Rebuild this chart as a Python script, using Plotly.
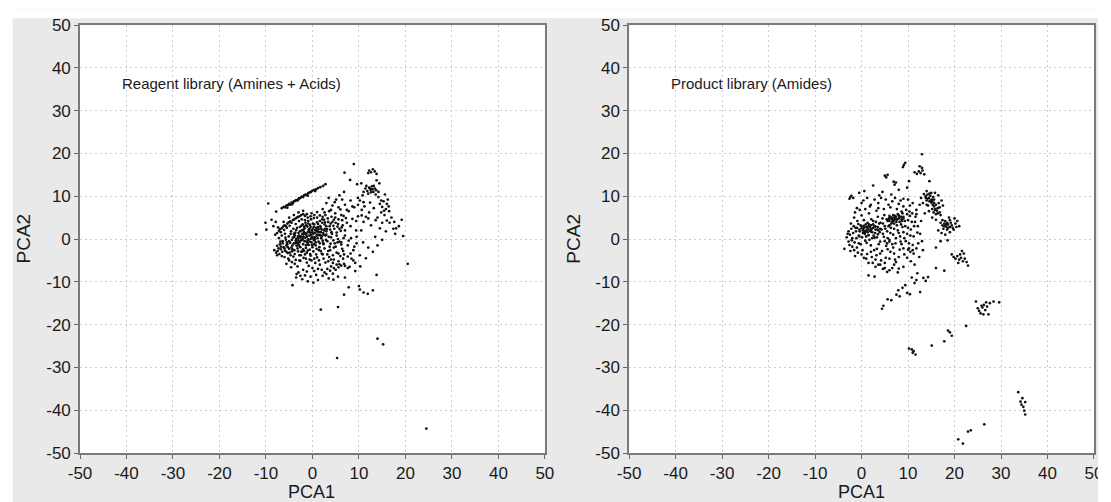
import plotly.graph_objects as go

# ---------------- data (PCA1, PCA2) ----------------
reagent_streak = [(-6.6,7.2),(-6.2,7.5),(-5.9,7.4),(-5.6,7.8),(-5.3,7.9),(-5.0,8.2),(-4.8,8.0),(-4.5,8.5),(-4.2,8.4),(-4.0,8.8),
    (-3.7,8.9),(-3.5,9.1),(-3.2,9.0),(-2.9,9.5),(-2.6,9.6),(-2.3,9.9),(-2.0,9.8),(-1.8,10.2),(-1.5,10.4),(-1.2,10.3),
    (-0.9,10.7),(-0.6,10.9),(-0.3,11.0),(0.0,11.3),(0.4,11.5),(0.8,11.6),(1.2,11.9),(1.7,12.1),(2.3,12.4),(2.8,12.8),
    (-5.4,7.3),(-4.4,8.1),(-3.0,9.3),(-1.0,10.1),(0.6,11.2)]
reagent_band = [(-8.0,1.0),(-7.6,1.4),(-7.2,1.9),(-7.0,2.3),(-6.6,2.5),(-6.3,2.9),(-6.0,3.2),(-5.7,3.0),(-5.4,3.6),(-5.1,3.9),
    (-4.8,4.1),(-4.5,3.8),(-4.2,4.4),(-3.9,4.6),(-3.5,4.9),(-3.2,5.1),(-2.8,5.3),(-2.4,5.6),(-2.0,5.8),(-1.6,5.4),
    (-7.4,2.7),(-6.8,1.6),(-6.1,2.1),(-5.5,2.6),(-4.9,3.1),(-8.4,3.0),(-7.9,4.0)]
reagent_core = [(-4.0,-1.0),(-3.6,-0.4),(-3.2,0.2),(-2.8,-0.8),(-2.5,0.6),(-2.2,-0.2),(-1.9,1.1),(-1.6,0.3),(-1.3,-0.6),(-1.0,1.6),
    (-0.7,0.8),(-0.4,0.0),(-0.1,2.0),(0.2,1.2),(0.5,0.4),(0.8,2.6),(1.1,1.8),(1.4,0.9),(1.7,3.0),(2.0,2.2),(2.3,1.4),(2.6,3.4),
    (-3.8,0.9),(-3.4,-1.6),(-3.0,1.4),(-2.6,-1.9),(-2.3,2.0),(-2.0,-1.2),(-1.7,2.5),(-1.4,-2.1),(-1.1,2.9),(-0.8,-1.4),
    (-0.5,3.3),(-0.2,-0.8),(0.1,3.6),(0.4,-0.3),(0.7,-1.5),(1.0,3.9),(1.3,-0.6),(1.6,4.2),(1.9,0.2),(2.2,-0.4),(2.5,4.5),
    (2.8,0.8),(-4.5,-2.0),(-4.2,0.3),(-3.9,-2.6),(-3.5,2.1),(-3.1,-2.9),(-2.7,2.8),(-2.4,-3.0),(-2.1,3.4),(-1.8,-2.8),
    (-1.5,3.8),(-1.2,-3.2),(-0.9,4.2),(-0.6,-2.5),(-0.3,4.6),(0.0,-1.9),(0.3,4.9),(0.6,2.1),(0.9,-2.3),(1.2,2.8),(1.5,-1.9),
    (1.8,1.6),(2.1,3.8),(2.4,-1.2),(2.7,2.4),(3.0,1.0),(3.0,3.0),(-5.0,-0.5),(-4.7,1.2),(-4.3,-1.5),(-5.3,-1.9),(-0.5,1.5),
    (0.0,0.5),(-1.0,-0.2),(-2.0,0.5),(-3.0,-0.3),(1.0,1.0),(0.3,2.8),(-0.8,2.2),(-1.8,1.6),(-2.9,0.8),(-3.6,-1.0)]
reagent_core2 = [(-6.8,-1.8),(-6.4,-1.0),(-6.0,-2.2),(-5.7,-0.2),(-5.4,-1.2),(-5.1,0.6),(-4.8,-0.9),(-4.6,1.8),(-4.4,-0.2),(-4.1,2.4),
    (-3.9,0.5),(-3.7,1.5),(-3.4,-0.7),(-3.3,2.6),(-3.1,0.6),(-2.9,-1.5),(-2.7,1.8),(-2.5,-0.4),(-2.4,3.1),(-2.2,1.2),
    (-2.0,-2.4),(-1.9,2.2),(-1.7,-0.5),(-1.5,1.3),(-1.4,3.2),(-1.2,0.5),(-1.0,-1.2),(-0.9,3.6),(-0.7,1.9),(-0.6,-0.6),
    (-0.4,2.8),(-0.3,1.0),(-0.1,-1.4),(0.1,2.4),(0.2,0.0),(0.4,3.4),(0.6,1.5),(0.7,-0.8),(0.9,2.0),(1.1,0.2),
    (1.2,3.5),(1.4,1.6),(1.6,-1.0),(1.8,2.5),(2.0,0.6),(2.1,4.6),(2.3,-0.9),(2.5,2.0),(2.7,3.9),(2.9,-0.2),
    (3.1,2.3),(3.3,4.8),(3.5,0.5),(3.7,3.0),(3.9,-1.1),(4.1,1.6),(4.3,4.0),(4.5,-0.3),(4.7,2.4),(4.9,5.0),
    (5.2,0.8),(5.5,3.5),(5.8,-0.6),(6.1,1.9),(6.4,4.4),(6.7,0.2),
    (-5.9,1.2),(-5.6,-3.0),(-4.9,-3.2),(-4.3,-2.4),(-3.8,-3.5),(-3.2,-2.2),(-2.8,-3.8),(-2.2,-2.9),(-1.6,-3.6),(-1.0,-2.7),
    (-0.4,-3.9),(0.2,-2.9),(0.8,-3.6),(1.4,-2.6),(2.0,-3.4),(2.6,-2.2),(3.2,-3.6),(3.8,-2.6),(4.4,-3.8),(5.0,-1.8),
    (5.6,-3.4),(6.2,-1.3),(-6.6,-4.0),(-7.3,-2.2),(-7.6,-3.8),(-5.0,-5.0),(-4.4,-5.4),(-2.8,-5.0),(-1.9,-4.4),(-0.6,-4.8),
    (0.4,-4.6),(1.4,-5.0),(2.4,-4.6),(3.4,-5.2),(4.6,-4.8),(5.6,-5.2),(6.6,-4.6),
    (-3.6,3.5),(-2.9,4.2),(-2.3,4.6),(-1.6,4.4),(-1.0,5.0),(-0.4,5.3),(0.4,5.6),(1.0,5.0),(1.6,5.5),(2.2,5.2),
    (-1.3,1.0),(-0.2,0.4),(0.9,0.8),(-2.1,0.0),(-3.2,-1.0),(-1.1,-0.8),(0.0,1.6),(1.3,2.3),(-0.6,2.4),(-1.8,2.9),
    (-2.6,0.3),(-0.9,-0.1),(0.5,-0.1),(1.7,0.9),(-3.5,0.0),(-4.0,1.2),(2.4,1.0),(3.0,1.8),(-1.4,-1.5),(0.3,-1.2)]
reagent_mid = [(4.2,1.2),(4.6,-2.0),(5.0,3.8),(5.4,-0.8),(5.8,2.4),(6.2,5.6),(6.6,-2.8),(7.0,2.0),(7.4,6.8),(7.8,-0.4),
    (8.2,3.0),(8.6,7.6),(9.0,-1.8),(9.4,4.2),(9.8,9.6),(3.6,-4.2),(4.4,-5.6),(5.2,-6.0),(6.0,-4.0),(6.8,-3.6),
    (7.6,-6.8),(8.4,-4.6),(9.2,-5.6),(-6.2,4.0),(-5.0,5.0),(-4.0,5.6),(-3.0,6.2),(-2.0,6.6),(3.0,8.4),(4.8,8.6),
    (6.4,9.2),(2.6,6.2),(4.0,6.8),(5.6,7.4),(-7.2,0.2),(-6.6,0.8),(-6.9,-0.6),(-7.6,-1.6),(-8.2,-2.6),(-3.4,-8.2),
    (-2.6,-8.6),(-1.2,-7.6),(0.0,-6.8),(1.2,-7.0),(2.2,-8.6),(3.0,-8.2),(4.0,-6.4),(-4.6,-6.6),(-5.6,-5.8)]
reagent_lowleft = [(-7.8,-3.2),(-7.5,-2.8),(-7.1,-3.5),(-6.8,-2.4),(-6.5,-3.0),(-6.2,-1.9),(-5.9,-2.7),(-5.6,-1.5),(-5.3,-3.3),
    (-5.0,-2.3),(-4.7,-3.8),(-4.4,-2.9),(-6.0,-4.2),(-5.2,-4.6),(-4.1,-4.1),(-3.6,-4.9),(-7.0,-1.2),(-6.4,-0.5),(-5.8,0.3),(-5.5,-0.8)]
reagent_upright = [(3.4,4.0),(3.8,2.2),(4.1,5.2),(4.5,3.1),(4.9,6.0),(5.2,1.5),(5.6,4.6),(6.0,6.9),(6.3,2.7),(6.7,5.4),(7.0,8.0),
    (7.4,3.8),(7.8,6.5),(8.2,9.0),(8.6,4.7),(9.0,7.4),(9.4,2.0),(9.8,5.3),(3.6,6.5),(4.3,7.8),(5.1,9.2),(5.8,10.2),(6.8,11.0),
    (3.2,-0.5),(4.0,0.4),(4.8,-1.0),(5.5,0.0),(6.2,-0.8),(7.0,0.8),(7.6,-1.5),(8.3,0.2),(8.8,-2.6),(9.5,-1.0),(3.5,9.6),
    (2.2,7.0),(1.0,6.3),(-0.2,6.0),(-1.2,5.8),(2.8,5.6),(6.5,3.2),(7.2,4.9),(5.4,2.9),(4.6,4.5),(3.9,3.6)]
reagent_lower = [(-3.8,-5.8),(-3.2,-6.4),(-2.6,-5.1),(-2.0,-7.2),(-1.4,-4.6),(-0.8,-6.3),(-0.2,-5.0),(0.4,-7.5),(1.0,-4.3),
    (1.6,-6.0),(2.2,-3.6),(2.8,-5.5),(3.4,-2.8),(4.0,-4.8),(4.6,-6.8),(5.2,-3.2),(5.8,-5.9),(6.4,-2.3),(7.0,-6.3),(7.6,-4.1),
    (8.2,-3.4),(8.8,-5.0),(2.0,-7.2),(2.6,-7.8),(3.2,-7.0),(3.8,-7.4),(4.4,-8.1),(5.0,-7.2),(5.6,-6.6),(6.2,-6.2),(6.8,-5.8),
    (-3.0,-7.8),(-1.6,-8.5),(-0.4,-8.8),(0.8,-8.4),(-2.2,-9.4),(-1.0,-9.9),(0.2,-10.2),(1.2,-9.6),(-4.3,-10.8),(-2.5,-3.8),
    (-0.5,-3.5),(1.8,-2.8),(3.7,-1.8),(-1.2,-5.5),(0.6,-5.6)]
reagent_right = [(12.2,16.0),(12.6,15.6),(13.0,16.3),(13.4,15.8),(13.8,15.2),(12.0,15.4),(11.4,11.8),(11.8,11.2),(12.2,12.0),
    (12.5,11.5),(12.8,12.3),(13.1,11.0),(13.4,11.8),(12.0,10.6),(11.0,11.0),(10.8,10.2),(13.6,10.4),(14.2,9.8),(14.5,8.2),
    (15.0,7.5),(15.3,8.8),(15.8,7.0),(16.2,9.2),(14.8,6.2),(15.5,5.6),(16.5,6.5),(17.0,5.0),(13.2,7.2),(14.0,5.0),(11.5,5.2),
    (12.0,4.8),(10.6,5.5),(11.0,4.0),(12.6,3.2),(14.5,2.5),(15.8,1.8),(16.6,3.8),(17.4,2.4),(13.5,0.5),(15.0,-0.2),(14.0,-1.5),
    (11.2,7.6),(12.4,8.5),(13.8,13.7),(10.5,13.0),(9.6,12.8),(8.1,13.8),(6.9,15.5),(8.9,17.5),(10.2,9.0),(9.8,8.0),(16.0,4.3),
    (18.0,2.5),(17.8,1.2),(19.2,4.5),(19.5,0.7),(20.5,-5.8),(9.5,0.5),(10.5,2.0),(10.9,-0.8),(12.0,-2.0),(11.5,-4.5),(13.0,-3.0),
    (8.0,-6.5),(9.2,-7.5),(7.0,-9.0),(10.2,-3.8),(10.3,-6.4),
    (12.4,11.8),(12.9,11.6),(13.2,12.4),(12.6,10.9),(13.7,11.4),(11.6,12.4),(14.2,11.0),(14.8,9.0),(15.4,6.6),(16.0,8.2),
    (16.4,7.6),(15.0,3.8),(13.6,4.4),(12.2,6.2),(11.0,8.6),(10.6,6.8),(15.6,10.4),(14.4,13.0),(17.6,4.0),(18.6,3.0)]
reagent_outliers = [(-12.1,1.1),(-10.1,3.8),(-9.9,2.2),(-9.5,8.3),(-8.8,4.5),(-7.8,6.4),(13.8,-8.4),(10.0,-11.0),(10.2,-11.8),
    (11.0,-12.5),(11.9,-12.8),(13.0,-12.0),(7.8,-11.3),(6.8,-13.0),(5.5,-15.9),(1.8,-16.5),(14.0,-23.3),(15.2,-24.6),
    (5.3,-27.8),(24.5,-44.3),(3.5,-9.2),(4.5,-9.5),(5.5,-8.8),(-3.5,-9.0)]

product_main = [(-2.5,1.0),(-2.2,2.4),(-2.0,0.2),(-1.7,3.0),(-1.5,-0.8),(-1.2,1.8),(-1.0,-2.0),(-0.7,3.5),(-0.5,0.6),(-0.2,-1.2),
    (0.0,2.5),(0.3,1.4),(0.5,3.1),(0.8,-0.4),(1.0,2.0),(1.3,3.8),(1.5,0.9),(1.8,2.7),(2.0,-1.5),(2.3,1.6),(2.5,4.2),(2.8,0.3),
    (3.0,2.9),(3.3,-2.3),(3.5,1.1),(3.8,3.6),(4.0,-0.6),(4.3,2.2),(4.5,4.8),(4.8,0.5),(5.0,3.0),(5.3,-1.6),(5.5,1.8),(5.8,4.4),
    (6.0,-0.2),(6.3,2.6),(6.5,5.0),(6.8,1.0),(7.0,3.6),(7.3,-1.0),(7.5,4.6),(7.8,2.0),(8.0,5.5),(8.3,0.6),(8.5,3.4),(8.8,6.0),
    (9.0,1.6),(9.3,4.2),(9.5,-0.5),(9.8,5.8),(10.0,2.6),(10.3,6.4),(10.5,0.8),(10.8,4.0),(11.0,-1.4),(11.3,3.0),(11.6,5.2),
    (12.0,1.5),(0.2,-2.6),(1.2,-3.5),(2.2,-4.2),(3.2,-3.8),(4.2,-5.0),(5.2,-4.4),(6.2,-3.0),(7.2,-4.8),(8.2,-2.5),(9.2,-3.6),
    (10.2,-2.2),(11.2,-3.4),(12.2,-1.0),(4.0,-6.0),(5.0,-6.8),(6.0,-7.3),(7.0,-6.0),(8.0,-6.9),(5.5,-7.7),(3.0,-6.5),(1.5,-5.6),
    (0.5,-4.4),(-0.8,-3.2),(-2.0,-1.8),(-2.8,-0.6),(-3.7,-2.3),(1.5,-8.5),(2.8,-8.8),(-1.6,5.0),(0.0,5.5),(1.6,6.0),(3.2,6.6),
    (4.8,7.0),(6.2,7.4),(7.6,7.0),(9.0,7.6),(10.4,7.8),(11.8,6.8),(2.0,8.0),(3.6,8.4),(5.2,9.2),(6.6,8.8),(8.4,9.0),(-1.0,7.2),
    (0.0,8.4),(1.2,9.6),(12.5,8.0),(12.8,4.2),(13.0,-0.5),(2.6,0.8),(1.0,0.6),(3.6,2.0),(6.6,4.0),(7.4,5.2),(8.6,4.6),(4.6,3.6),
    (0.6,1.6),(2.0,3.2),(-0.6,0.8),(5.6,0.2),(6.8,-2.0),(8.6,-1.2),(9.8,-4.4),(10.6,-5.2),(11.4,-6.0),(12.4,-4.2),(13.2,-2.6),
    (7.8,-7.8),(9.0,-6.5),(0.5,2.6),(1.0,2.8),(1.5,2.2),(2.0,2.0),(2.5,2.6),(3.0,2.2),(3.5,2.8),(4.0,2.4),(6.0,4.2),(6.5,4.6),
    (7.0,4.4),(7.5,4.0),(8.0,4.8),(8.5,5.2),(9.0,4.8),(5.0,-0.5),(5.5,-1.0),(6.0,-0.6),(10.0,-2.5),(10.5,-3.0),(11.0,-2.6)]
product_main2 = [(-3.2,0.4),(-2.8,1.8),(-2.6,-1.4),(-2.3,3.6),(-2.1,-0.3),(-1.8,1.4),(-1.6,-2.6),(-1.3,2.6),(-1.1,0.2),(-0.9,4.2),
    (-0.6,-1.0),(-0.4,1.8),(-0.2,3.2),(0.1,0.4),(0.3,2.0),(0.5,4.4),(0.7,1.2),(0.9,3.4),(1.1,-0.9),(1.3,1.6),
    (1.5,3.0),(1.7,-0.2),(1.9,1.8),(2.1,4.6),(2.3,0.2),(2.5,3.4),(2.7,-2.6),(2.9,1.4),(3.1,4.0),(3.3,0.4),
    (3.5,5.2),(3.7,-1.2),(3.9,1.6),(4.1,3.8),(4.4,-2.8),(4.6,1.2),(4.9,5.6),(5.1,2.4),(5.4,4.6),(5.6,-2.4),
    (5.8,3.0),(6.0,5.4),(6.2,1.4),(6.4,3.6),(6.6,-1.2),(6.8,5.6),(7.0,2.4),(7.2,4.8),(7.4,0.2),(7.6,3.2),
    (7.8,5.8),(8.0,1.4),(8.2,4.0),(8.4,-0.6),(8.6,6.4),(8.8,2.8),(9.0,5.2),(9.2,0.2),(9.4,3.0),(9.6,6.8),
    (9.8,1.2),(10.0,4.4),(10.2,-1.0),(10.4,5.4),(10.6,2.2),(10.9,6.0),(11.2,0.6),(11.5,4.0),(11.8,-2.2),(12.1,3.0),
    (-1.0,2.6),(-0.5,2.2),(0.0,3.0),(0.4,2.4),(0.8,1.8),(1.2,2.6),(1.6,3.4),(2.2,2.4),(2.8,3.0),(3.4,2.2),
    (5.6,4.2),(5.9,4.8),(6.3,5.0),(6.8,4.2),(7.2,5.4),(7.7,4.6),(8.2,5.2),(8.7,4.2),(6.0,3.2),(7.0,5.0),
    (0.0,-3.6),(1.0,-4.6),(2.0,-3.0),(3.0,-4.8),(4.0,-3.4),(5.0,-5.6),(6.0,-4.6),(7.0,-3.4),(8.0,-4.2),(9.0,-2.2),
    (3.6,-6.0),(4.6,-7.0),(6.6,-6.8),(7.4,-5.4),(2.4,-5.6),(-1.4,-4.0),(-2.4,-2.8),(-3.0,1.2),(11.8,5.8),(12.6,1.2),
    (0.8,7.0),(1.8,7.6),(2.8,9.2),(3.6,7.2),(4.2,9.6),(5.8,8.0),(6.4,10.4),(7.2,9.6),(8.0,8.2),(9.0,9.4),
    (10.0,9.2),(11.0,8.4),(-1.4,6.2),(-0.4,6.8),(0.4,9.0)]
product_top = [(-2.4,9.8),(-2.2,10.1),(-2.6,9.4),(-1.8,9.6),(-0.5,10.8),(0.6,11.2),(2.5,12.5),(4.5,11.0),(3.8,10.2),
    (13.0,19.8),(11.4,15.6),(11.9,15.2),(12.3,15.8),(12.7,15.4),(13.1,16.0),(13.5,15.1),(13.0,16.6),(12.5,17.0),(9.1,17.3),
    (9.4,17.8),(8.9,16.8),(5.3,14.4),(5.6,15.0),(5.0,14.8),(7.1,12.7),(7.4,13.2),(6.9,13.4),(9.8,12.0),(10.2,13.5),(14.6,13.5),(8.0,11.5)]
product_c1 = [(13.4,10.5),(13.8,10.0),(14.2,10.4),(14.5,9.6),(14.8,10.1),(15.1,9.2),(15.4,9.8),(15.0,8.5),(15.3,8.0),(15.6,7.6),
    (15.9,7.0),(16.2,6.6),(15.5,6.2),(16.0,5.8),(16.4,6.0),(14.6,8.8),(14.0,9.0),(14.3,7.8),(16.8,7.4),(17.2,9.0),(16.6,8.4),
    (13.2,8.4),(12.8,9.6),(14.0,11.2),(15.8,10.8),(16.5,10.2),(17.5,7.8),(15.2,5.0),(14.5,6.5),(13.6,6.0),
    (14.2,9.4),(14.8,9.0),(15.2,8.8),(15.6,8.4),(15.2,7.0),(15.8,6.8),(16.4,7.2),(14.6,10.6),(15.0,10.8),(13.8,9.6),
    (16.0,8.0),(16.8,6.2),(17.0,5.6),(14.0,8.0),(15.6,9.2)]
product_c2 = [(17.0,3.8),(17.4,3.2),(17.8,3.6),(18.2,2.9),(18.6,3.4),(19.0,2.8),(18.4,3.8),(17.6,2.4),(19.4,3.2),(19.8,2.2),
    (20.2,3.6),(20.6,4.2),(21.0,3.0),(17.2,1.4),(18.0,1.0),(19.0,1.6),(16.5,2.0),(16.0,4.5),(18.8,5.0),(20.0,4.8),(17.0,-0.5),
    (18.5,-0.3),(16.0,-2.0),(17.8,3.0),(18.2,3.4),(18.6,2.6),(19.2,3.8),(18.0,4.2),(19.6,2.6),(18.4,2.2),(17.4,4.4),(20.4,2.8),(19.0,4.4)]
product_c3 = [(19.8,-4.2),(20.2,-4.6),(20.6,-4.0),(21.0,-4.8),(21.4,-4.4),(21.8,-5.2),(22.2,-4.6),(22.6,-5.4),(21.2,-3.6),
    (20.8,-5.6),(22.9,-6.2),(21.6,-2.8),(19.4,-3.6),(22.0,-3.4)]
product_chain = [(4.4,-16.3),(4.7,-15.6),(5.6,-14.1),(6.4,-14.3),(7.9,-12.0),(8.2,-13.4),(8.8,-11.4),(9.8,-12.6),(9.4,-10.8),
    (10.4,-12.9),(11.4,-10.3),(11.8,-9.6),(12.6,-12.4),(13.3,-9.1),(14.3,-8.9),(13.8,-9.8),(7.5,-13.0),(16.0,-6.8),(17.8,-7.4),
    (10.8,-9.0),(12.0,-8.0)]
product_c4 = [(24.6,-14.6),(25.0,-16.2),(25.3,-16.8),(25.6,-17.4),(26.0,-16.0),(26.3,-15.4),(26.6,-16.6),(27.0,-15.8),(26.2,-17.6),
    (27.3,-17.6),(27.6,-15.0),(28.4,-14.6),(29.6,-14.8),(25.8,-15.6),(26.8,-14.8)]
product_outliers = [(22.5,-20.3),(18.6,-21.4),(19.0,-21.8),(19.4,-22.6),(17.8,-23.9),(15.1,-24.9),(10.2,-25.6),(10.8,-25.8),
    (11.2,-26.2),(11.6,-27.0),(11.0,-26.6),(26.4,-43.3),(22.9,-45.0),(23.5,-44.7),(20.8,-46.8),(21.8,-47.8),(33.7,-35.8),
    (34.2,-38.0),(34.6,-37.2),(35.2,-38.1),(34.8,-39.2),(35.0,-40.1),(35.2,-41.0),(34.4,-38.7)]

axis_ticks = [-50, -40, -30, -20, -10, 0, 10, 20, 30, 40, 50]
axis_tick_text = ["-50", "-40", "-30", "-20", "-10", "0", "10", "20", "30", "40", "50"]
panel_labels = ["Reagent library (Amines + Acids)", "Product library (Amides)"]
axis_titles = ["PCA1", "PCA2"]

reagent = (reagent_streak + reagent_band + reagent_core + reagent_core2 + reagent_mid + reagent_lowleft
           + reagent_upright + reagent_lower + reagent_right + reagent_outliers)
product = (product_main + product_main2 + product_top + product_c1 + product_c2 + product_c3
           + product_chain + product_c4 + product_outliers)

# ---------------- figure ----------------
# the page body adds an 8px margin, so the figure is 8px smaller than the window
OFF = 8
W, H = 1111 - OFF, 502 - OFF
ML, MR, MT, MB = 80 - OFF, 8, 17 - OFF, 49
PW, PH = W - ML - MR, H - MT - MB
def px(x):  # screenshot pixel -> paper x
    return (x - OFF - ML) / PW
def py(y):  # screenshot pixel -> paper y
    return (H - MB - (y - OFF)) / PH

FONT = "Liberation Sans, Arial, sans-serif"
TXT = "#1a1a1a"
fig = go.Figure()
for pts, xa, ya in [(reagent, "x", "y"), (product, "x2", "y2")]:
    fig.add_trace(go.Scatter(
        x=[p[0] for p in pts], y=[p[1] for p in pts], mode="markers",
        marker=dict(size=2.7, color="#111111", line=dict(width=0)),
        xaxis=xa, yaxis=ya, showlegend=False, hoverinfo="skip"))

ax_common = dict(range=[-50, 50], tickvals=axis_ticks, ticktext=axis_tick_text, ticks="outside", ticklen=4,
                 tickcolor="#666", showline=True, mirror=True, linecolor="#7a7a7a", linewidth=1.6,
                 showgrid=True, gridcolor="#cdcdcd", griddash="2px,3px", gridwidth=1, zeroline=False,
                 tickfont=dict(family=FONT, size=17, color=TXT), fixedrange=True)
fig.update_layout(
    width=W, height=H, margin=dict(l=ML, r=MR, t=MT, b=MB),
    paper_bgcolor="#e9e9e9", plot_bgcolor="white",
    xaxis=dict(domain=[0, px(549)], anchor="y", **ax_common),
    yaxis=dict(domain=[0, 1], anchor="x", **ax_common),
    xaxis2=dict(domain=[px(634), 1], anchor="y2", **ax_common),
    yaxis2=dict(domain=[0, 1], anchor="x2", **ax_common),
)

shapes = [
    dict(type="rect", xref="paper", yref="paper", x0=px(0), x1=px(1115), y0=py(10), y1=py(0),
         fillcolor="white", line=dict(width=0), layer="above"),
    dict(type="rect", xref="paper", yref="paper", x0=px(0), x1=px(12), y0=py(505), y1=py(0),
         fillcolor="white", line=dict(width=0), layer="above"),
    dict(type="rect", xref="paper", yref="paper", x0=px(1107), x1=px(1115), y0=py(505), y1=py(0),
         fillcolor="white", line=dict(width=0), layer="above"),
]
fig.update_layout(shapes=shapes)

ann = [
    dict(text=panel_labels[0], xref="x", yref="y", x=-41.5, y=36.3, xanchor="left", yanchor="middle",
         showarrow=False, font=dict(family=FONT, size=15, color=TXT)),
    dict(text=panel_labels[1], xref="x2", yref="y2", x=-41.5, y=36.3, xanchor="left", yanchor="middle",
         showarrow=False, font=dict(family=FONT, size=15, color=TXT)),
]
for cx in (314, 868):
    ann.append(dict(text=axis_titles[0], xref="paper", yref="paper", x=px(cx), y=py(493), xanchor="center",
                    yanchor="middle", showarrow=False, font=dict(family=FONT, size=18, color=TXT)))
for cx in (22, 577):
    ann.append(dict(text=axis_titles[1], xref="paper", yref="paper", x=px(cx), y=py(235), xanchor="center",
                    yanchor="middle", textangle=-90, showarrow=False, font=dict(family=FONT, size=19, color=TXT)))
fig.update_layout(annotations=ann)

fig.write_html("out.html")
